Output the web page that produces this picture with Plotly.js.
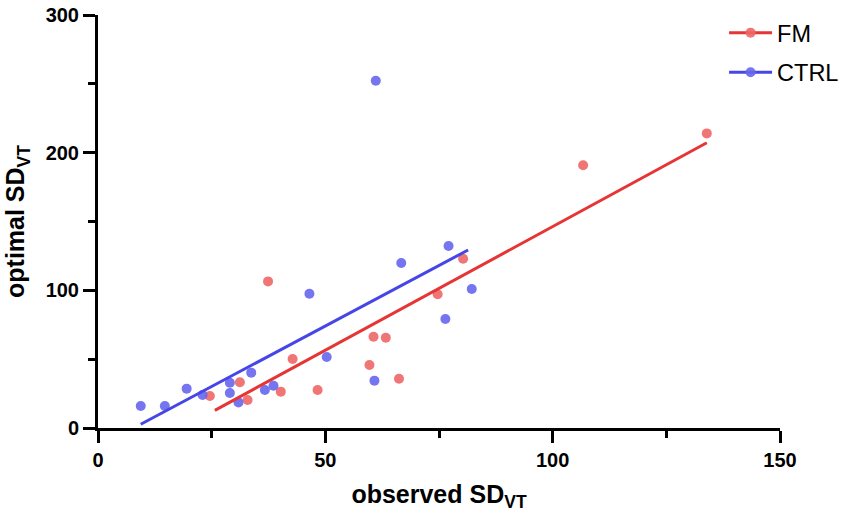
<!DOCTYPE html>
<html>
<head>
<meta charset="utf-8">
<script src="https://cdn.plot.ly/plotly-3.0.1.min.js"></script>
<style>html,body{margin:0;padding:0;background:#fff}#chart{width:851px;height:516px}</style>
</head>
<body>
<div id="chart"></div>
<script>
// FM group: observed vs optimal SD_VT
const fmObserved = [24.6, 31.2, 32.9, 37.4, 40.2, 42.8, 48.3, 59.7, 60.6, 63.3, 66.2, 74.7, 80.3, 106.7, 133.9];
const fmOptimal  = [23.2, 33.2, 20.3, 106.5, 26.4, 50.1, 27.6, 45.8, 66.3, 65.6, 35.8, 97.1, 122.9, 190.8, 214.0];
// CTRL group
const ctrlObserved = [9.4, 14.7, 19.5, 23.0, 29.0, 29.0, 30.9, 33.7, 36.7, 38.6, 46.5, 50.3, 60.8, 61.1, 66.7, 76.4, 77.1, 82.2];
const ctrlOptimal  = [16.0, 16.0, 28.6, 24.0, 32.9, 25.4, 18.6, 40.2, 27.6, 30.7, 97.5, 51.6, 34.4, 252.2, 119.8, 79.2, 132.2, 101.0];
// regression line endpoints
const fmFitX = [25.7, 133.9];
const fmFitY = [12.8, 207.2];
const ctrlFitX = [9.4, 81.4];
const ctrlFitY = [2.7, 129.3];
const groupNames = ['FM', 'CTRL'];
const xTicks = [0, 50, 100, 150];
const yTicks = [0, 100, 200, 300];

const redMarker = 'rgba(238,102,102,0.9)';
const redLine = '#E53535';
const blueMarker = 'rgba(102,102,238,0.9)';
const blueLine = '#4646E6';

const traces = [
  {x: fmObserved, y: fmOptimal, mode: 'markers', type: 'scatter', showlegend: false,
   marker: {color: redMarker, size: 10}},
  {x: ctrlObserved, y: ctrlOptimal, mode: 'markers', type: 'scatter', showlegend: false,
   marker: {color: blueMarker, size: 10}},
  {x: fmFitX, y: fmFitY, mode: 'lines', type: 'scatter', showlegend: false,
   line: {color: redLine, width: 3}},
  {x: ctrlFitX, y: ctrlFitY, mode: 'lines', type: 'scatter', showlegend: false,
   line: {color: blueLine, width: 3}},
  {x: [null], y: [null], mode: 'lines+markers', type: 'scatter', name: groupNames[0], legendgroup: 'a',
   line: {color: redLine, width: 3}, marker: {color: redMarker, size: 10}},
  {x: [null], y: [null], mode: 'lines+markers', type: 'scatter', name: groupNames[1], legendgroup: 'b',
   line: {color: blueLine, width: 3}, marker: {color: blueMarker, size: 10}}
];

const fontFam = 'Liberation Sans, Arial, sans-serif';
const layout = {
  width: 851, height: 516,
  margin: {l: 98, r: 71, t: 15, b: 88, autoexpand: false},
  paper_bgcolor: '#fff', plot_bgcolor: '#fff',
  font: {family: fontFam, color: '#000'},
  xaxis: {
    range: [0, 150], tickvals: xTicks, ticktext: xTicks.map(String),
    showgrid: false, zeroline: false, showline: true, linecolor: '#000', linewidth: 3,
    ticks: 'outside', ticklen: 12, tickwidth: 3, tickcolor: '#000',
    minor: {dtick: 25, tick0: 0, ticks: 'outside', ticklen: 7, tickwidth: 3, tickcolor: '#000', showgrid: false},
    tickfont: {size: 20, weight: 'bold', family: fontFam},
    title: {text: 'observed SD<sub>VT</sub>', font: {size: 25, weight: 'bold', family: fontFam}, standoff: 16},
    automargin: false, fixedrange: true
  },
  yaxis: {
    range: [0, 300], tickvals: yTicks, ticktext: yTicks.map(String),
    showgrid: false, zeroline: false, showline: true, linecolor: '#000', linewidth: 3,
    ticks: 'outside', ticklen: 12, tickwidth: 3, tickcolor: '#000',
    minor: {dtick: 50, tick0: 0, ticks: 'outside', ticklen: 7, tickwidth: 3, tickcolor: '#000', showgrid: false},
    tickfont: {size: 20, weight: 'bold', family: fontFam},
    title: {text: 'optimal SD<sub>VT</sub>', font: {size: 25, weight: 'bold', family: fontFam}, standoff: 14},
    automargin: false, fixedrange: true
  },
  legend: {
    x: 0.918, y: 1.01, xanchor: 'left', yanchor: 'top',
    font: {size: 23.5, family: fontFam, color: '#000'},
    bgcolor: 'rgba(0,0,0,0)', borderwidth: 0,
    itemwidth: 43,
    traceorder: 'grouped', tracegroupgap: 6
  },
  showlegend: true
};

Plotly.newPlot('chart', traces, layout, {displayModeBar: false, staticPlot: true});
</script>
</body>
</html>
